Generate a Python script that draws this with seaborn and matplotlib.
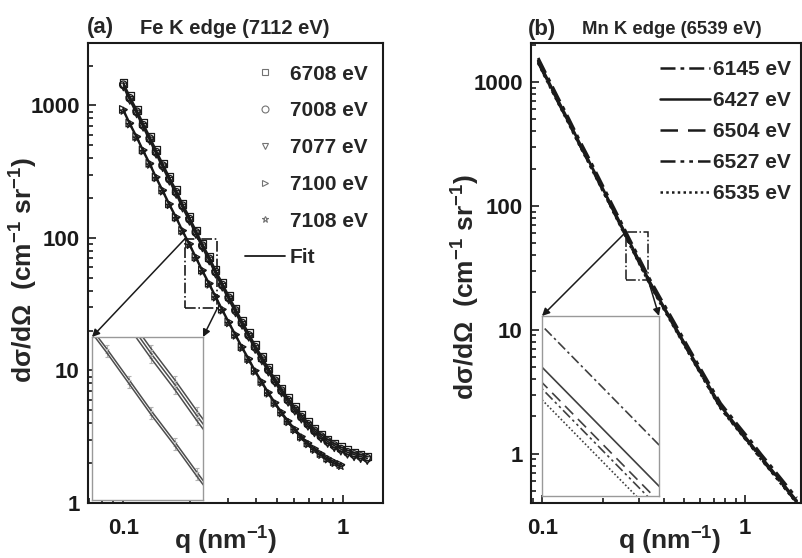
import numpy as np
import pandas as pd
import seaborn as sns
import matplotlib.pyplot as plt
from matplotlib.lines import Line2D
from matplotlib.patches import Rectangle
from matplotlib.ticker import FixedLocator, FixedFormatter, LogLocator, NullFormatter

# ---- data: panel (a) Fe K edge, q (nm^-1) and dsigma/dOmega (cm^-1 sr^-1)
q_a = [0.100, 0.107, 0.115, 0.123, 0.132, 0.141, 0.151, 0.162, 0.174, 0.186,
       0.200, 0.214, 0.229, 0.246, 0.263, 0.282, 0.302, 0.324, 0.347, 0.372,
       0.398, 0.427, 0.457, 0.490, 0.525, 0.562, 0.603, 0.646, 0.692, 0.741,
       0.794, 0.851, 0.912, 0.977, 1.047, 1.122, 1.202, 1.288]
I_6708 = [1484, 1174, 928, 735, 581, 460, 364, 288, 229, 181,
          143.6, 114, 90.5, 72.0, 57.3, 45.7, 36.6, 29.3, 23.6, 19.1,
          15.5, 12.7, 10.44, 8.67, 7.28, 6.18, 5.30, 4.61, 4.07, 3.63,
          3.29, 3.02, 2.81, 2.64, 2.50, 2.40, 2.32, 2.25]
I_7008 = [1432, 1133, 896, 709, 561, 444, 351, 278, 221, 175,
          138.6, 110, 87.3, 69.5, 55.3, 44.1, 35.3, 28.3, 22.8, 18.4,
          15.0, 12.3, 10.1, 8.37, 7.03, 5.96, 5.11, 4.45, 3.93, 3.50,
          3.17, 2.91, 2.71, 2.55, 2.41, 2.32, 2.24, 2.17]
I_7077 = [1380, 1092, 863, 684, 540, 428, 339, 268, 213, 168,
          133.5, 106, 84.2, 67.0, 53.3, 42.5, 34.0, 27.2, 21.9, 17.8,
          14.4, 11.8, 9.71, 8.06, 6.77, 5.75, 4.93, 4.29, 3.79, 3.38,
          3.06, 2.81, 2.61, 2.46, 2.33, 2.23, 2.16, 2.09]
I_7100 = [933, 737, 584, 462, 366, 289, 230, 181, 144, 114,
          90.5, 72.0, 57.2, 45.5, 36.4, 29.0, 23.3, 18.7, 15.1, 12.3,
          10.0, 8.26, 6.85, 5.74, 4.86, 4.17, 3.63, 3.18, 2.84, 2.58,
          2.36, 2.18, 2.05, 1.95]
I_7108 = [906, 716, 567, 449, 355, 281, 223, 176, 140, 111,
          87.9, 69.9, 55.5, 44.2, 35.3, 28.2, 22.6, 18.2, 14.7, 11.9,
          9.74, 8.02, 6.65, 5.57, 4.72, 4.05, 3.52, 3.09, 2.76, 2.50,
          2.29, 2.12, 1.99, 1.89]
labels_a = ["6708 eV", "7008 eV", "7077 eV", "7100 eV", "7108 eV"]
markers_a = ["s", "o", "v", ">", "*"]

# ---- data: panel (b) Mn K edge
q_b = [0.0955, 0.107, 0.120, 0.135, 0.151, 0.170, 0.191, 0.214, 0.240, 0.269,
       0.302, 0.339, 0.380, 0.427, 0.479, 0.537, 0.603, 0.676, 0.759, 0.851,
       0.955, 1.072, 1.202, 1.349, 1.514, 1.698, 1.80]
I_6145 = [1560, 1074, 740, 509, 351, 242, 166, 114.5, 78.9, 54.3,
          37.3, 25.7, 18.4, 13.2, 9.46, 6.79, 4.88, 3.52, 2.55, 2.01,
          1.59, 1.26, 0.99, 0.787, 0.624, 0.494, 0.44]
I_6427 = [1479, 1018, 702, 483, 333, 229, 157, 108.5, 74.8, 51.5,
          35.4, 24.4, 17.4, 12.5, 8.97, 6.44, 4.63, 3.34, 2.42, 1.91,
          1.51, 1.19, 0.94, 0.746, 0.592, 0.468, 0.417]
I_6504 = [1451, 999, 688, 473, 326, 225, 154, 106.5, 73.4, 50.5,
          34.7, 23.9, 17.1, 12.3, 8.80, 6.31, 4.54, 3.27, 2.37, 1.87,
          1.48, 1.17, 0.92, 0.732, 0.580, 0.459, 0.409]
I_6527 = [1438, 990, 682, 469, 324, 223, 153, 105.6, 72.7, 50.1,
          34.4, 23.7, 17.0, 12.2, 8.72, 6.26, 4.50, 3.25, 2.35, 1.85,
          1.47, 1.16, 0.91, 0.726, 0.575, 0.455, 0.406]
I_6535 = [1420, 977, 673, 463, 319, 220, 151, 104.2, 71.8, 49.4,
          33.9, 23.4, 16.7, 12.0, 8.61, 6.18, 4.44, 3.20, 2.32, 1.83,
          1.45, 1.15, 0.90, 0.716, 0.568, 0.450, 0.400]
labels_b = ["6145 eV", "6427 eV", "6504 eV", "6527 eV", "6535 eV"]
styles_b = [(0, (6, 2, 1.5, 2)), "-", (0, (7, 4)), (0, (6, 2, 1.5, 2, 1.5, 2)), (0, (1, 1.3))]

sns.set_theme(style="ticks")
plt.rcParams["font.family"] = ["Liberation Sans", "DejaVu Sans"]
plt.rcParams["font.weight"] = "bold"
plt.rcParams["axes.labelweight"] = "bold"
plt.rcParams["mathtext.fontset"] = "custom"
plt.rcParams["mathtext.rm"] = "Liberation Sans:bold"
plt.rcParams["mathtext.it"] = "Liberation Sans:bold"
plt.rcParams["mathtext.bf"] = "Liberation Sans:bold"

fig = plt.figure(figsize=(8.02, 5.58), dpi=100)
fig.patch.set_facecolor("white")
ax_a = fig.add_axes([0.1097, 0.0986, 0.3679, 0.8243])
ax_b = fig.add_axes([0.6621, 0.0986, 0.3366, 0.8243])

def style_axis(ax, xlim, ylim, xlab_pos, ylab_pos):
    ax.set_xscale("log")
    ax.set_yscale("log")
    ax.set_xlim(*xlim)
    ax.set_ylim(*ylim)
    ax.xaxis.set_major_locator(FixedLocator([0.1, 1]))
    ax.xaxis.set_major_formatter(FixedFormatter(["0.1", "1"]))
    yt = [t for t in [1, 10, 100, 1000] if ylim[0] <= t <= ylim[1]]
    ax.yaxis.set_major_locator(FixedLocator(yt))
    ax.yaxis.set_major_formatter(FixedFormatter([str(t) for t in yt]))
    for axis in (ax.xaxis, ax.yaxis):
        axis.set_minor_locator(LogLocator(base=10, subs=np.arange(2, 10), numticks=20))
        axis.set_minor_formatter(NullFormatter())
    ax.tick_params(which="both", direction="in", width=1.2, colors="k", labelsize=16)
    ax.tick_params(which="major", length=6, pad=6)
    ax.tick_params(axis="x", which="major", pad=11)
    ax.tick_params(which="minor", length=3.5)
    for s in ax.spines.values():
        s.set_linewidth(1.5)
        s.set_color("k")
    ax.set_xlabel("q (nm$^{-1}$)", fontsize=19)
    ax.set_ylabel("d\u03c3/d\u03a9  (cm$^{-1}$ sr$^{-1}$)", fontsize=19)
    ax.xaxis.set_label_coords(*xlab_pos)
    ax.yaxis.set_label_coords(*ylab_pos)

# ---- panel (a)
series_a = [I_6708, I_7008, I_7077, I_7100, I_7108]
frames_a = [pd.DataFrame({"q": q_a[:len(v)], "I": v, "E": lab})
            for v, lab in zip(series_a, labels_a)]
lim_a = ((0.069, 1.52), (1, 2960), (0.468, -0.048), (-0.163, 0.507))
for df, mk in zip(frames_a, markers_a):
    sns.scatterplot(data=df, x="q", y="I", marker=mk, s=30, facecolor="none",
                    edgecolor="k", linewidth=0.9, ax=ax_a, legend=False, zorder=2)
    sns.lineplot(data=df, x="q", y="I", color="k", lw=1.2, ax=ax_a,
                 legend=False, estimator=None, sort=False, zorder=3)
style_axis(ax_a, *lim_a)

h_a = [Line2D([], [], marker=m, ls="none", mfc="none", mec="0.45", ms=5, mew=0.8)
       for m in markers_a]
h_a.append(Line2D([], [], color="k", lw=1.3))
ax_a.legend(h_a, labels_a + ["Fit"], loc="upper right", frameon=False, fontsize=15,
            labelspacing=0.85, handlelength=1.9, handletextpad=0.25,
            borderaxespad=0.2, bbox_to_anchor=(0.99, 0.98))

box_a = (0.191, 0.268, 29.6, 99)
ax_a.add_patch(Rectangle((box_a[0], box_a[2]), box_a[1] - box_a[0], box_a[3] - box_a[2],
                         fill=False, ec="k", lw=1.2, ls="-.", zorder=4))

in_a = fig.add_axes([0.1147, 0.1039, 0.1384, 0.2921])
in_a.set_xscale("log")
in_a.set_yscale("log")
for df in frames_a:
    in_a.errorbar(df["q"], df["I"], yerr=df["I"] * 0.03, fmt="none",
                  ecolor="0.7", elinewidth=0.8, capsize=1.5, capthick=0.8)
    sns.lineplot(data=df, x="q", y="I", color="0.3", lw=1.1, ax=in_a,
                 legend=False, estimator=None, sort=False)
in_a.set_xlim(box_a[0], box_a[1])
in_a.set_ylim(box_a[2], box_a[3])
in_a.set_xticks([], minor=True)
in_a.set_yticks([], minor=True)
in_a.set_xticks([])
in_a.set_yticks([])
in_a.set_xlabel("")
in_a.set_ylabel("")
for s in in_a.spines.values():
    s.set_color("0.6")
    s.set_linewidth(1.0)

arrow = dict(arrowstyle="-|>", color="k", lw=1.1, mutation_scale=11, shrinkA=0, shrinkB=0)
ax_a.annotate("", xy=(0, 1), xycoords=in_a.transAxes, xytext=(box_a[0], box_a[3]),
              textcoords="data", arrowprops=arrow, annotation_clip=False)
ax_a.annotate("", xy=(1, 1), xycoords=in_a.transAxes, xytext=(box_a[1], box_a[2]),
              textcoords="data", arrowprops=arrow, annotation_clip=False)

# ---- panel (b)
series_b = [I_6145, I_6427, I_6504, I_6527, I_6535]
frames_b = [pd.DataFrame({"q": q_b, "I": v, "E": lab}) for v, lab in zip(series_b, labels_b)]
lim_b = ((0.088, 1.89), (0.40, 2060), (0.515, -0.048), (-0.181, 0.47))
for df, ls in zip(frames_b, styles_b):
    sns.lineplot(data=df, x="q", y="I", color="k", lw=2.0, linestyle=ls, ax=ax_b,
                 legend=False, estimator=None, sort=False)
style_axis(ax_b, *lim_b)

h_b = [Line2D([], [], color="k", lw=1.8, linestyle=ls) for ls in styles_b]
ax_b.legend(h_b, labels_b, loc="upper right", frameon=False, fontsize=15,
            labelspacing=0.58, handlelength=2.4, handletextpad=0.1,
            borderaxespad=0.1, bbox_to_anchor=(1.0, 0.986))

box_b = (0.259, 0.333, 25.3, 61.6)
ax_b.add_patch(Rectangle((box_b[0], box_b[2]), box_b[1] - box_b[0], box_b[3] - box_b[2],
                         fill=False, ec="k", lw=1.1, ls="-.", zorder=4))

in_b = fig.add_axes([0.6758, 0.1111, 0.1459, 0.3226])
in_b.set_xscale("log")
in_b.set_yscale("log")
for df, ls in zip(frames_b, styles_b):
    sns.lineplot(data=df, x="q", y="I", color="0.25", lw=1.2, linestyle=ls, ax=in_b,
                 legend=False, estimator=None, sort=False)
in_b.set_xlim(0.2705, 0.2835)
in_b.set_ylim(42.9, 54.0)
in_b.set_xticks([], minor=True)
in_b.set_yticks([], minor=True)
in_b.set_xticks([])
in_b.set_yticks([])
in_b.set_xlabel("")
in_b.set_ylabel("")
for s in in_b.spines.values():
    s.set_color("0.6")
    s.set_linewidth(1.0)

ax_b.annotate("", xy=(0, 1), xycoords=in_b.transAxes, xytext=(box_b[0], box_b[3]),
              textcoords="data", arrowprops=arrow, annotation_clip=False)
ax_b.annotate("", xy=(1, 1), xycoords=in_b.transAxes, xytext=(box_b[1], box_b[2]),
              textcoords="data", arrowprops=arrow, annotation_clip=False)

# ---- panel titles
fig.text(87 / 802, 1 - 28 / 558, "(a)", fontsize=16, fontweight="bold", va="center")
fig.text(140 / 802, 1 - 28 / 558, "Fe K edge (7112 eV)", fontsize=14.5, fontweight="bold", va="center")
fig.text(528 / 802, 1 - 30 / 558, "(b)", fontsize=16, fontweight="bold", va="center")
fig.text(582 / 802, 1 - 30 / 558, "Mn K edge (6539 eV)", fontsize=13.3, fontweight="bold", va="center")

fig.savefig("out.png", dpi=100)
